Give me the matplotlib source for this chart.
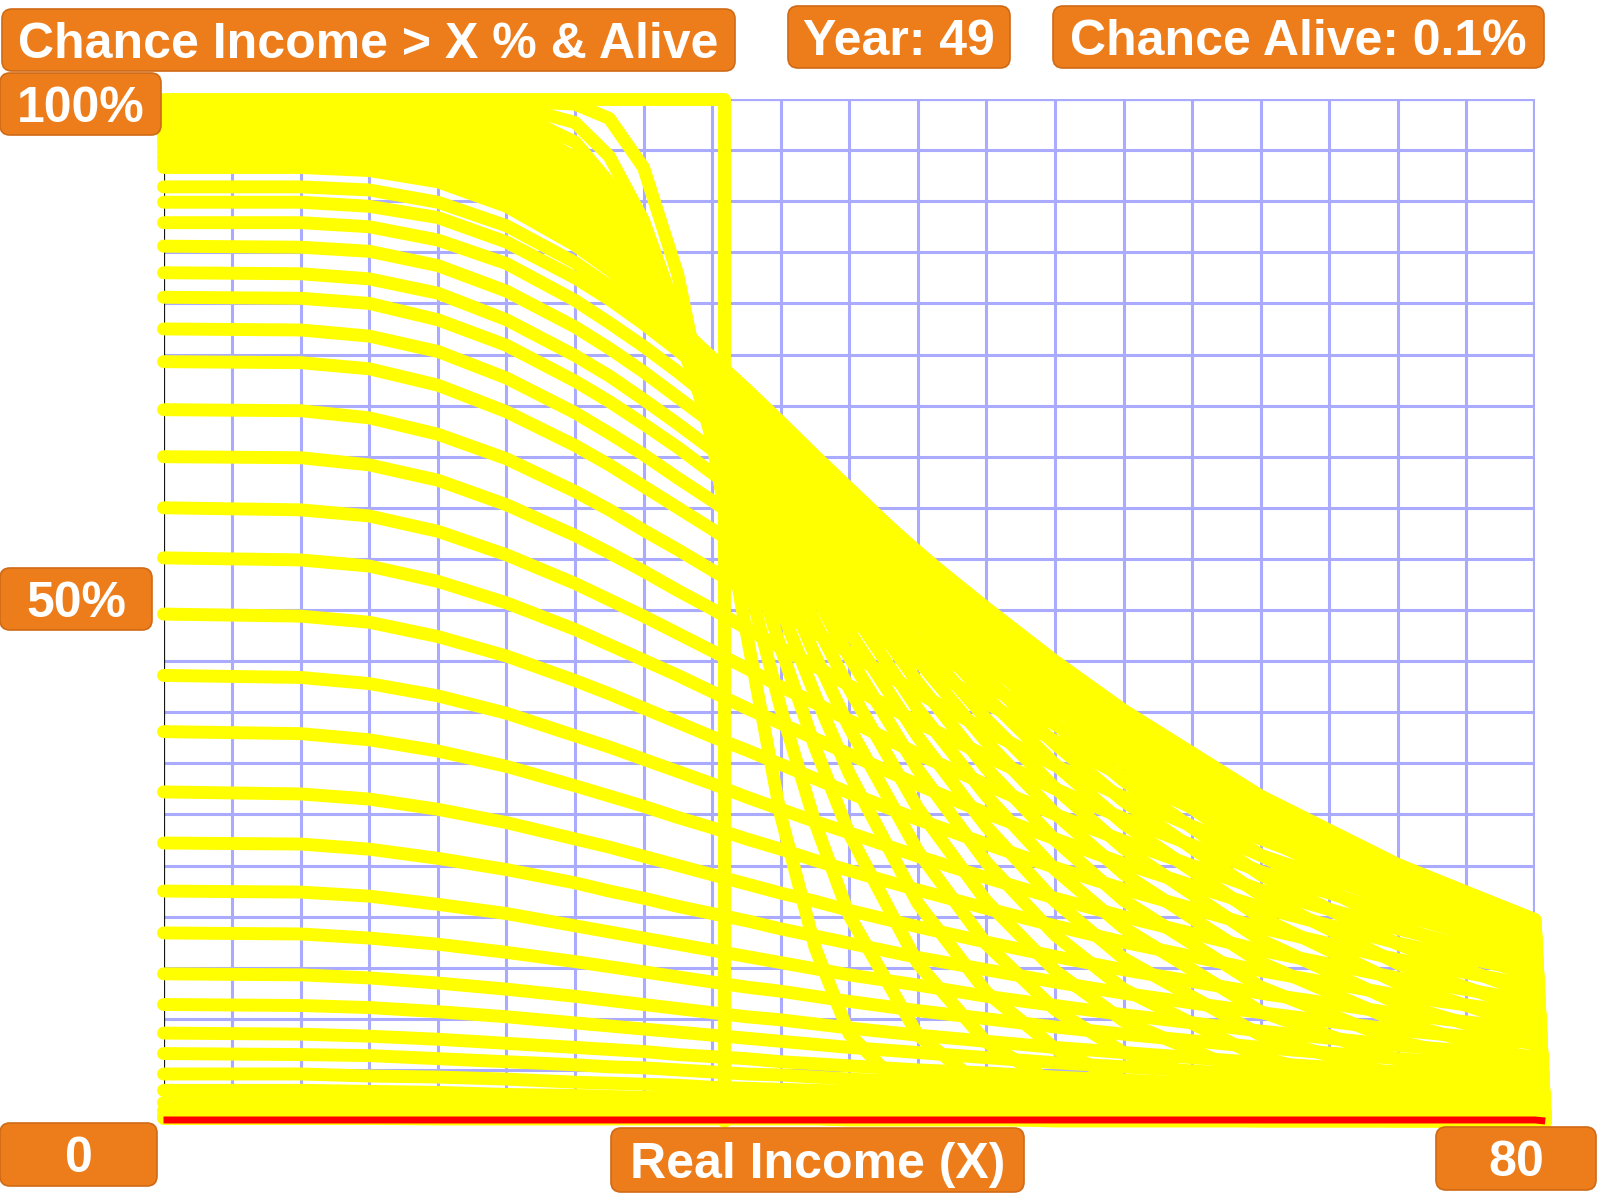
import numpy as np
import matplotlib.pyplot as plt
from matplotlib.patches import FancyBboxPatch

# real income (X) sample points, every curve drops to zero just past 80
income = [0, 8, 12, 16, 20, 24, 26, 28, 30, 32, 34, 36, 38, 40, 44, 48, 52, 56, 64, 72, 80]
income_end = 80.6

# year 1: everybody alive, income fixed at ~32.7
year1_income = [0, 32.7, 32.7]
year1_pct = [100, 100, 0]

years = list(range(2, 50))
# chance (%) that income > X and alive, one row per year 2..49
chance_pct = [
    [99.8, 99.8, 99.8, 99.8, 99.8, 99.5, 98.1, 93.3, 82.8, 66.6, 47.8, 29.9, 17.0, 8.5, 1.7, 0.2, 0.0, 0.0, 0.0, 0.0, 0.0],
    [99.6, 99.6, 99.6, 99.6, 99.5, 97.7, 94.4, 88.1, 78.7, 66.6, 53.5, 40.4, 29.2, 20.1, 8.4, 3.1, 1.0, 0.3, 0.0, 0.0, 0.0],
    [99.4, 99.4, 99.4, 99.4, 99.0, 95.8, 91.8, 85.6, 77.3, 67.4, 57.0, 46.3, 36.6, 28.1, 15.4, 7.7, 3.6, 1.6, 0.3, 0.0, 0.0],
    [99.1, 99.1, 99.1, 99.0, 98.3, 94.2, 90.1, 84.1, 76.8, 68.3, 59.5, 50.2, 41.7, 34.0, 21.3, 12.6, 7.1, 3.9, 1.1, 0.3, 0.0],
    [98.8, 98.8, 98.8, 98.7, 97.5, 93.0, 88.8, 83.3, 76.7, 69.2, 61.4, 53.3, 45.6, 38.5, 26.4, 17.3, 10.9, 6.7, 2.4, 0.8, 0.3],
    [98.5, 98.5, 98.5, 98.3, 96.7, 92.0, 87.9, 82.7, 76.7, 70.0, 62.9, 55.8, 48.8, 42.3, 30.6, 21.5, 14.7, 9.8, 4.1, 1.7, 0.7],
    [98.2, 98.2, 98.2, 97.9, 96.0, 91.1, 87.2, 82.4, 76.9, 70.7, 64.4, 57.8, 51.5, 45.4, 34.4, 25.3, 18.2, 12.9, 6.2, 2.9, 1.3],
    [97.8, 97.8, 97.8, 97.3, 95.3, 90.4, 86.7, 82.2, 77.0, 71.4, 65.5, 59.5, 53.6, 47.9, 37.6, 28.8, 21.5, 15.9, 8.4, 4.4, 2.2],
    [97.4, 97.4, 97.4, 96.8, 94.6, 89.7, 86.2, 81.9, 77.1, 71.9, 66.5, 61.0, 55.5, 50.3, 40.3, 31.8, 24.6, 18.9, 10.7, 6.0, 3.3],
    [97.0, 97.0, 96.9, 96.3, 94.0, 89.1, 85.7, 81.8, 77.3, 72.5, 67.4, 62.3, 57.1, 52.2, 42.9, 34.5, 27.5, 21.6, 13.1, 7.8, 4.6],
    [96.6, 96.6, 96.5, 95.7, 93.4, 88.7, 85.4, 81.6, 77.4, 72.9, 68.2, 63.4, 58.6, 53.9, 45.1, 37.1, 30.1, 24.2, 15.5, 9.7, 6.0],
    [96.2, 96.2, 96.1, 95.2, 92.8, 88.2, 85.1, 81.6, 77.5, 73.3, 69.0, 64.5, 59.9, 55.5, 47.0, 39.3, 32.6, 26.7, 17.7, 11.5, 7.5],
    [95.8, 95.8, 95.6, 94.7, 92.3, 87.8, 84.8, 81.4, 77.7, 73.7, 69.6, 65.3, 61.1, 56.9, 48.9, 41.5, 34.9, 29.1, 19.9, 13.5, 9.1],
    [95.3, 95.3, 95.1, 94.2, 91.7, 87.3, 84.5, 81.3, 77.8, 74.0, 70.1, 66.0, 62.0, 58.1, 50.5, 43.4, 36.9, 31.3, 22.1, 15.4, 10.7],
    [94.8, 94.8, 94.6, 93.6, 91.1, 86.8, 84.2, 81.1, 77.7, 74.2, 70.5, 66.7, 62.9, 59.3, 52.0, 45.1, 38.9, 33.3, 24.1, 17.3, 12.3],
    [94.3, 94.3, 94.0, 93.0, 90.5, 86.5, 83.8, 81.0, 77.8, 74.4, 70.9, 67.3, 63.7, 60.2, 53.2, 46.7, 40.6, 35.2, 26.0, 19.1, 14.0],
    [93.8, 93.8, 93.5, 92.4, 90.0, 86.0, 83.6, 80.8, 77.8, 74.6, 71.3, 67.9, 64.4, 61.1, 54.4, 48.1, 42.3, 37.0, 28.0, 20.9, 15.7],
    [93.3, 93.3, 93.0, 91.9, 89.5, 85.7, 83.3, 80.6, 77.8, 74.7, 71.6, 68.4, 65.1, 61.9, 55.5, 49.4, 43.8, 38.6, 29.7, 22.7, 17.3],
    [91.4, 91.4, 91.1, 89.9, 87.6, 84.0, 81.7, 79.2, 76.6, 73.7, 70.8, 67.7, 64.7, 61.6, 55.7, 49.9, 44.5, 39.6, 30.9, 23.9, 18.6],
    [89.9, 89.9, 89.5, 88.4, 86.0, 82.5, 80.4, 78.0, 75.4, 72.7, 69.9, 67.1, 64.1, 61.3, 55.6, 50.2, 45.0, 40.2, 31.8, 25.1, 19.7],
    [87.9, 87.9, 87.5, 86.2, 83.9, 80.3, 78.1, 75.8, 73.3, 70.6, 67.9, 65.1, 62.3, 59.6, 54.1, 48.9, 44.0, 39.4, 31.4, 24.9, 19.7],
    [85.6, 85.5, 85.1, 83.7, 81.2, 77.7, 75.6, 73.3, 70.8, 68.3, 65.7, 63.1, 60.3, 57.8, 52.5, 47.5, 42.8, 38.4, 30.8, 24.7, 19.6],
    [83.0, 82.9, 82.4, 81.0, 78.4, 74.9, 72.9, 70.6, 68.2, 65.7, 63.3, 60.8, 58.2, 55.6, 50.7, 46.0, 41.5, 37.4, 30.1, 24.2, 19.4],
    [80.6, 80.5, 80.0, 78.4, 75.9, 72.4, 70.4, 68.2, 65.9, 63.4, 61.1, 58.6, 56.2, 53.8, 49.1, 44.5, 40.3, 36.4, 29.5, 23.9, 19.3],
    [77.5, 77.4, 76.8, 75.3, 72.7, 69.3, 67.3, 65.2, 62.9, 60.7, 58.4, 56.1, 53.7, 51.5, 47.0, 42.7, 38.8, 35.1, 28.5, 23.3, 18.8],
    [74.3, 74.2, 73.6, 72.0, 69.4, 66.1, 64.2, 62.1, 60.0, 57.9, 55.7, 53.5, 51.3, 49.1, 44.9, 40.9, 37.2, 33.7, 27.6, 22.5, 18.4],
    [69.6, 69.5, 68.8, 67.2, 64.8, 61.6, 59.8, 57.8, 55.9, 53.9, 51.9, 49.8, 47.8, 45.8, 41.9, 38.2, 34.8, 31.7, 26.0, 21.4, 17.5],
    [65.0, 64.9, 64.2, 62.7, 60.3, 57.3, 55.6, 53.8, 51.9, 50.1, 48.2, 46.3, 44.5, 42.6, 39.0, 35.7, 32.5, 29.6, 24.4, 20.2, 16.6],
    [60.0, 59.8, 59.2, 57.7, 55.4, 52.6, 51.0, 49.4, 47.7, 46.0, 44.3, 42.5, 40.9, 39.2, 35.9, 32.9, 30.0, 27.4, 22.6, 18.8, 15.5],
    [55.1, 54.9, 54.3, 52.8, 50.7, 48.1, 46.6, 45.1, 43.6, 42.0, 40.4, 38.9, 37.4, 35.9, 32.9, 30.1, 27.6, 25.2, 20.9, 17.4, 14.5],
    [49.6, 49.4, 48.8, 47.4, 45.5, 43.1, 41.8, 40.4, 39.0, 37.6, 36.3, 34.9, 33.5, 32.1, 29.5, 27.1, 24.8, 22.7, 18.9, 15.8, 13.2],
    [43.6, 43.4, 42.8, 41.6, 39.9, 37.7, 36.6, 35.4, 34.2, 33.0, 31.7, 30.5, 29.3, 28.2, 25.9, 23.8, 21.8, 20.0, 16.7, 14.0, 11.7],
    [38.1, 37.9, 37.3, 36.2, 34.7, 32.8, 31.8, 30.8, 29.7, 28.7, 27.6, 26.6, 25.5, 24.5, 22.6, 20.8, 19.1, 17.5, 14.7, 12.3, 10.4],
    [32.2, 32.0, 31.5, 30.5, 29.2, 27.6, 26.8, 25.9, 25.0, 24.1, 23.2, 22.3, 21.5, 20.6, 19.0, 17.5, 16.1, 14.8, 12.5, 10.5, 8.9],
    [27.2, 27.1, 26.6, 25.7, 24.6, 23.3, 22.5, 21.8, 21.0, 20.3, 19.6, 18.8, 18.1, 17.4, 16.0, 14.8, 13.6, 12.5, 10.6, 8.9, 7.6],
    [22.5, 22.4, 22.0, 21.2, 20.3, 19.1, 18.5, 17.9, 17.3, 16.7, 16.1, 15.5, 14.9, 14.3, 13.3, 12.2, 11.3, 10.4, 8.8, 7.4, 6.3],
    [18.4, 18.3, 17.9, 17.3, 16.5, 15.6, 15.1, 14.6, 14.1, 13.6, 13.1, 12.7, 12.2, 11.7, 10.8, 10.0, 9.2, 8.5, 7.2, 6.1, 5.2],
    [14.4, 14.3, 14.0, 13.5, 12.9, 12.2, 11.8, 11.4, 11.0, 10.6, 10.2, 9.9, 9.5, 9.1, 8.4, 7.8, 7.2, 6.7, 5.7, 4.8, 4.1],
    [11.4, 11.3, 11.1, 10.7, 10.2, 9.6, 9.3, 9.0, 8.7, 8.4, 8.1, 7.8, 7.5, 7.2, 6.7, 6.2, 5.7, 5.3, 4.5, 3.8, 3.3],
    [8.6, 8.5, 8.3, 8.0, 7.6, 7.2, 7.0, 6.8, 6.5, 6.3, 6.1, 5.8, 5.6, 5.4, 5.0, 4.7, 4.3, 4.0, 3.4, 2.9, 2.5],
    [6.6, 6.5, 6.4, 6.1, 5.8, 5.5, 5.3, 5.2, 5.0, 4.8, 4.6, 4.5, 4.3, 4.1, 3.8, 3.6, 3.3, 3.1, 2.6, 2.3, 1.9],
    [4.6, 4.6, 4.4, 4.3, 4.1, 3.8, 3.7, 3.6, 3.5, 3.3, 3.2, 3.1, 3.0, 2.9, 2.7, 2.5, 2.3, 2.1, 1.8, 1.6, 1.4],
    [3.0, 3.0, 2.9, 2.8, 2.6, 2.5, 2.4, 2.3, 2.3, 2.2, 2.1, 2.0, 1.9, 1.9, 1.7, 1.6, 1.5, 1.4, 1.2, 1.0, 0.9],
    [1.8, 1.8, 1.7, 1.7, 1.6, 1.5, 1.5, 1.4, 1.4, 1.3, 1.3, 1.2, 1.2, 1.1, 1.0, 1.0, 0.9, 0.8, 0.7, 0.6, 0.5],
    [1.0, 1.0, 1.0, 0.9, 0.9, 0.8, 0.8, 0.8, 0.8, 0.7, 0.7, 0.7, 0.7, 0.6, 0.6, 0.5, 0.5, 0.5, 0.4, 0.3, 0.3],
    [0.5, 0.5, 0.5, 0.5, 0.4, 0.4, 0.4, 0.4, 0.4, 0.4, 0.4, 0.3, 0.3, 0.3, 0.3, 0.3, 0.25, 0.2, 0.2, 0.2, 0.1],
    [0.25, 0.25, 0.25, 0.2, 0.2, 0.2, 0.2, 0.2, 0.2, 0.2, 0.2, 0.2, 0.2, 0.1, 0.1, 0.1, 0.1, 0.1, 0.1, 0.1, 0.1],
    [0.1, 0.1, 0.1, 0.1, 0.1, 0.1, 0.1, 0.1, 0.1, 0.1, 0.1, 0.1, 0.1, 0.1, 0.1, 0.1, 0.1, 0.1, 0.1, 0.1, 0.1],
]

GRID = '#aaaaff'
YELLOW = '#ffff00'
ORANGE = '#ed7d1b'

fig = plt.figure(figsize=(16, 12), dpi=100)
ax = fig.add_axes([163.5 / 1600, 79 / 1200, 1371.5 / 1600, 1022 / 1200])
ax.set_xlim(0, 80)
ax.set_ylim(0, 100)
for s in ax.spines.values():
    s.set_visible(False)
ax.set_xticks(np.arange(4, 81, 4))
ax.set_yticks(np.arange(5, 101, 5))
ax.tick_params(length=0, labelbottom=False, labelleft=False)
ax.set_axisbelow(True)
ax.grid(True, color=GRID, lw=2.2)
ax.axvline(80, color=GRID, lw=3, zorder=1)
ax.axhline(100, color=GRID, lw=3, zorder=1)
ax.axvline(0, color='#151515', lw=1.6, zorder=2)

xs = np.append(income, income_end)
line_kw = dict(color=YELLOW, lw=9.3, solid_capstyle='round',
               solid_joinstyle='round', clip_on=False, zorder=3)
ax.plot(year1_income, year1_pct, **line_kw)
for yr, row in zip(years[:-1], chance_pct[:-1]):
    ax.plot(xs, np.append(row, 0.0), **line_kw)
# current year in red
ax.plot(xs, np.append(chance_pct[-1], 0.0), color='#ff0000', lw=5,
        solid_capstyle='butt', clip_on=False, zorder=4)

# label boxes on top (pixel coords, y down)
ov = fig.add_axes([0, 0, 1, 1])
ov.set_xlim(0, 1600)
ov.set_ylim(1200, 0)
ov.axis('off')
ov.patch.set_alpha(0)

labels = [
    ("Chance Income > X % & Alive", 2, 9, 735, 71),
    (f"Year: {years[-1]}", 788, 6, 1010, 68),
    (f"Chance Alive: {chance_pct[-1][0]:.1f}%", 1053, 6, 1544, 68),
    ("100%", 0, 73, 161, 135),
    ("50%", 0, 568, 152, 630),
    ("0", 0, 1123, 157, 1186),
    ("Real Income (X)", 611, 1128, 1024, 1192),
    ("80", 1436, 1127, 1596, 1190),
]
for txt, x0, y0, x1, y1 in labels:
    ov.add_patch(FancyBboxPatch((x0, y0), x1 - x0, y1 - y0,
                                boxstyle="round,pad=0,rounding_size=10",
                                fc=ORANGE, ec='#cf6a16', lw=1.2))
    ov.text((x0 + x1) / 2, y0 + (y1 - y0 + 36) / 2, txt, ha='center', va='baseline',
            color='white', fontsize=36, fontweight='bold',
            family=['Liberation Sans', 'DejaVu Sans'])

fig.savefig('out.png', dpi=100, facecolor='white')
